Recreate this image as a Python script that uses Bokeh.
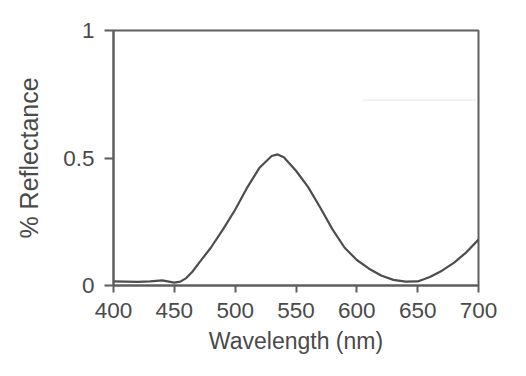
from bokeh.plotting import figure
from bokeh.models import Range1d, FixedTicker
from bokeh.embed import file_html
from bokeh.resources import INLINE

# Data
wavelength = [400, 410, 420, 430, 440, 450, 455, 460, 465, 470, 480, 490, 500,
              510, 520, 530, 535, 540, 550, 560, 570, 580, 590, 600, 610, 620,
              630, 640, 650, 660, 670, 680, 690, 700]
reflectance = [0.016, 0.015, 0.014, 0.016, 0.020, 0.011, 0.015, 0.030, 0.055,
               0.087, 0.148, 0.220, 0.297, 0.385, 0.462, 0.508, 0.514, 0.503,
               0.450, 0.386, 0.305, 0.220, 0.148, 0.100, 0.066, 0.039, 0.022,
               0.015, 0.016, 0.033, 0.058, 0.090, 0.130, 0.180]

x_ticks = [400, 450, 500, 550, 600, 650, 700]
y_ticks = [0, 0.5, 1]
y_tick_labels = ["0", "0.5", "1"]

# faint scan artefact line in the upper right
artefact_x = [605, 698]
artefact_y = [0.727, 0.727]

FONT = "Liberation Sans"
TEXT = "#4a4a4a"
FRAME = "#5e5e5e"

p = figure(width=510, height=360, output_backend="svg", toolbar_location=None,
           x_range=Range1d(400, 700), y_range=Range1d(0, 1),
           min_border_left=113, min_border_right=32, min_border_top=30,
           min_border_bottom=75)

p.grid.visible = False
p.background_fill_color = "white"
p.border_fill_color = "white"
p.outline_line_color = FRAME
p.outline_line_width = 2

p.line(artefact_x, artefact_y, line_color="#e6e6e6", line_width=1)
p.line(wavelength, reflectance, line_color="#4d4d4d", line_width=2.2,
       line_join="round")

xa = p.xaxis[0]
xa.ticker = FixedTicker(ticks=x_ticks)
xa.axis_label = "Wavelength (nm)"
ya = p.yaxis[0]
ya.ticker = FixedTicker(ticks=y_ticks)
ya.major_label_overrides = {t: l for t, l in zip(y_ticks, y_tick_labels)}
ya.axis_label = "% Reflectance"

for ax in (xa, ya):
    ax.axis_line_color = FRAME
    ax.axis_line_width = 2
    ax.major_tick_line_color = FRAME
    ax.major_tick_line_width = 2
    ax.major_tick_in = 0
    ax.minor_tick_line_color = None
    ax.major_label_text_font = FONT
    ax.major_label_text_color = TEXT
    ax.major_label_text_font_size = "22.5px"
    ax.axis_label_text_font = FONT
    ax.axis_label_text_color = TEXT
    ax.axis_label_text_font_style = "normal"

xa.major_tick_out = 7
xa.major_label_standoff = 10
xa.axis_label_text_font_size = "23px"
xa.axis_label_standoff = 7
ya.major_tick_out = 9
ya.major_label_standoff = 10
ya.axis_label_text_font_size = "25px"
ya.axis_label_standoff = 17

open("out.html", "w").write(file_html(p, INLINE))
